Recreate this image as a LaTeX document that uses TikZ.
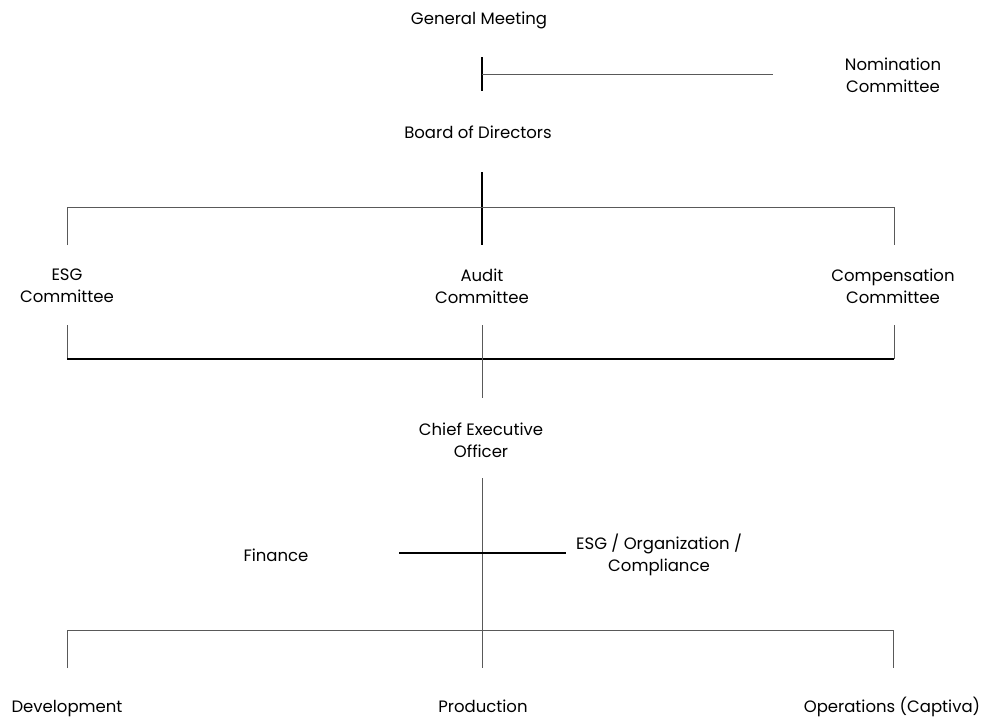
\documentclass[tikz,border=0pt]{standalone}
\usepackage{fontspec}
\setmainfont{Poppins}
\begin{document}
\begin{tikzpicture}[x=1pt,y=-1pt,
  lbl/.style={font=\fontsize{16.5}{22}\selectfont, align=center, inner sep=0pt},
  thickln/.style={draw=black, line width=1.4pt},
  thinln/.style={draw=black!65, line width=0.9pt}]
\useasboundingbox (0,0) rectangle (987,718);
% labels
\node[lbl, anchor=base] (gm) at (479,24) {General Meeting};
\node[lbl] (nom) at (893,75) {Nomination\\Committee};
\node[lbl, anchor=base] (bod) at (478,138) {Board of Directors};
\node[lbl] (esgc) at (67,286) {ESG\\Committee};
\node[lbl] (aud) at (482,286) {Audit\\Committee};
\node[lbl] (comp) at (893,286) {Compensation\\Committee};
\node[lbl] (ceo) at (481,440) {Chief Executive\\Officer};
\node[lbl, anchor=base] (fin) at (276,561) {Finance};
\node[lbl] (esgo) at (659,555) {ESG / Organization /\\Compliance};
\node[lbl, anchor=base] (dev) at (67,712) {Development};
\node[lbl, anchor=base] (prod) at (483,712) {Production};
\node[lbl, anchor=base] (ops) at (892,712) {Operations (Captiva)};
% connector points
\coordinate (a1) at (482,57);  \coordinate (a2) at (482,91);
\coordinate (a3) at (482,74);  \coordinate (a4) at (773,74);
\coordinate (b1) at (482,172); \coordinate (b2) at (482,245);
\coordinate (bl) at (67,207);  \coordinate (br) at (894,207);
\coordinate (bl2) at (67,245); \coordinate (br2) at (894,245);
\coordinate (cl) at (67,325);  \coordinate (cr) at (894,325);
\coordinate (cl2) at (67,359); \coordinate (cr2) at (894,359);
\coordinate (cm) at (482,325); \coordinate (cm2) at (482,398);
\coordinate (d1) at (482,478); \coordinate (d2) at (482,668);
\coordinate (fl) at (399,553); \coordinate (fr) at (566,553);
\coordinate (el) at (67,630);  \coordinate (er) at (893,630);
\coordinate (el2) at (67,668); \coordinate (er2) at (893,668);
% lines
\draw[thickln] (a1) -- (a2);
\draw[thinln] (a3) -- (a4);
\draw[thickln] (b1) -- (b2);
\draw[thinln] (bl2) -- (bl) -- (br) -- (br2);
\draw[thinln] (cl) -- (cl2);
\draw[thinln] (cr) -- (cr2);
\draw[thickln] (cl2) -- (cr2);
\draw[thinln] (cm) -- (cm2);
\draw[thinln] (d1) -- (d2);
\draw[thickln] (fl) -- (fr);
\draw[thinln] (el2) -- (el) -- (er) -- (er2);
\end{tikzpicture}
\end{document}
